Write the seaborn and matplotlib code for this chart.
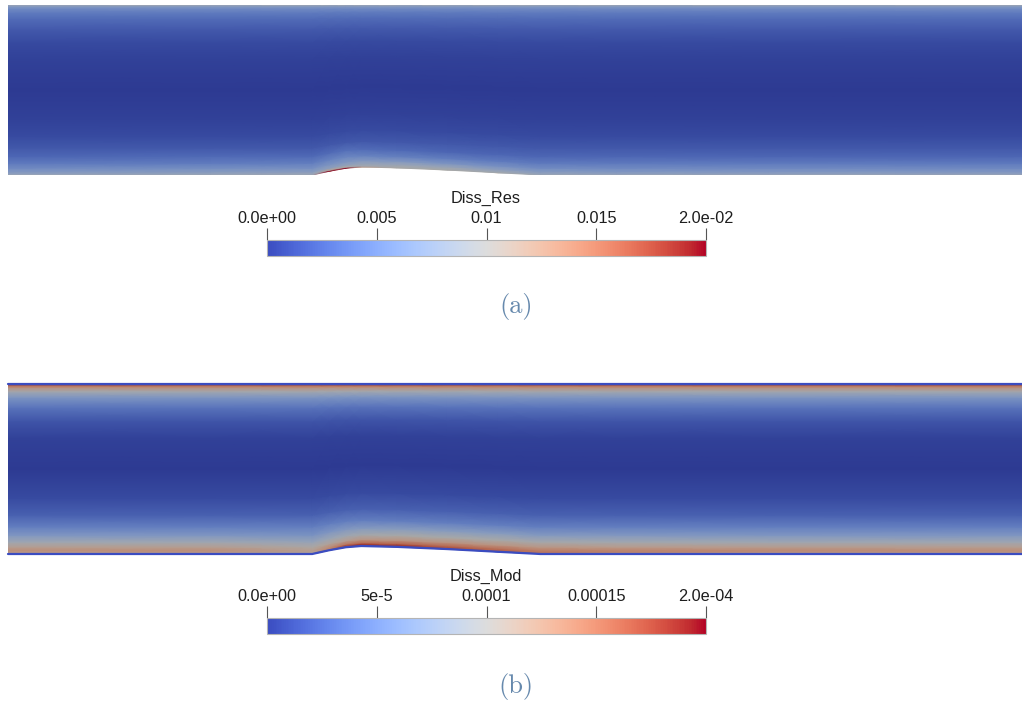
import numpy as np
import matplotlib
matplotlib.use("Agg")
import matplotlib.pyplot as plt
from matplotlib.colors import Normalize, ListedColormap
from matplotlib.cm import ScalarMappable
import seaborn as sns

sns.set_theme(style="white")
plt.rcParams['font.family'] = ['Liberation Sans', 'DejaVu Sans']

# ---------------- data ----------------
# streamwise stations (channel heights) and bottom-wall bump height
stations = [0.0, 1.2, 1.80, 1.90, 2.00, 2.09, 2.30, 2.60, 2.90, 3.15, 3.6, 4.5, 6.0]
bump_height = [0.0, 0.0, 0.0, 0.022, 0.040, 0.047, 0.042, 0.029, 0.013, 0.0, 0.0, 0.0, 0.0]

# wall-normal levels (0 = bottom wall, 1 = top wall)
eta = [0.0, 0.008, 0.02, 0.04, 0.07, 0.11, 0.16, 0.23, 0.33, 0.5,
       0.68, 0.78, 0.86, 0.92, 0.955, 0.98, 0.992, 1.0]

# Diss_Res: reference profile (fraction of colour range) and near-bottom-wall rows
res_max = 0.02
res_profile = [0.45, 0.38, 0.33, 0.27, 0.20, 0.14, 0.09, 0.05, 0.02, 0.0,
               0.02, 0.05, 0.10, 0.16, 0.21, 0.28, 0.34, 0.46]
res_wall_rows = [
    [0.45, 0.45, 0.45, 1.00, 1.00, 0.60, 0.50, 0.50, 0.48, 0.45, 0.45, 0.45, 0.45],
    [0.38, 0.40, 0.42, 0.55, 0.50, 0.46, 0.48, 0.47, 0.44, 0.40, 0.38, 0.38, 0.38],
    [0.33, 0.35, 0.36, 0.38, 0.40, 0.42, 0.43, 0.42, 0.38, 0.35, 0.33, 0.33, 0.33],
    [0.27, 0.29, 0.30, 0.32, 0.33, 0.34, 0.34, 0.32, 0.30, 0.28, 0.27, 0.27, 0.27],
    [0.20, 0.21, 0.22, 0.24, 0.25, 0.24, 0.23, 0.22, 0.21, 0.20, 0.20, 0.20, 0.20],
    [0.14, 0.15, 0.15, 0.16, 0.17, 0.16, 0.15, 0.14, 0.14, 0.14, 0.14, 0.14, 0.14],
]

# Diss_Mod
mod_max = 2.0e-4
mod_profile = [0.0, 0.60, 0.66, 0.58, 0.46, 0.33, 0.22, 0.12, 0.05, 0.0,
               0.02, 0.08, 0.18, 0.32, 0.47, 0.65, 0.80, 0.0]
mod_wall_rows = [
    [0.00, 0.00, 0.00, 0.00, 0.00, 0.00, 0.00, 0.00, 0.00, 0.00, 0.00, 0.00, 0.00],
    [0.60, 0.60, 0.55, 0.70, 0.88, 0.95, 0.92, 0.85, 0.80, 0.74, 0.68, 0.62, 0.60],
    [0.66, 0.66, 0.58, 0.66, 0.74, 0.78, 0.80, 0.78, 0.76, 0.72, 0.70, 0.68, 0.66],
    [0.58, 0.58, 0.52, 0.55, 0.58, 0.62, 0.64, 0.64, 0.63, 0.62, 0.60, 0.59, 0.58],
    [0.46, 0.46, 0.42, 0.44, 0.46, 0.48, 0.50, 0.50, 0.50, 0.49, 0.47, 0.46, 0.46],
    [0.33, 0.33, 0.31, 0.33, 0.34, 0.35, 0.36, 0.36, 0.36, 0.35, 0.34, 0.33, 0.33],
]

res_ticks = [0.0, 0.005, 0.01, 0.015, 0.02]
res_labels = ['0.0e+00', '0.005', '0.01', '0.015', '2.0e-02']
mod_ticks = [0.0, 5e-5, 1e-4, 1.5e-4, 2e-4]
mod_labels = ['0.0e+00', '5e-5', '0.0001', '0.00015', '2.0e-04']

# ---------------- drawing ----------------
W, H = 1022, 704
fig = plt.figure(figsize=(W / 100, H / 100), dpi=100)
fig.patch.set_facecolor('white')

def ax_px(x0, y0, x1, y1):
    return fig.add_axes([x0 / W, 1 - y1 / H, (x1 - x0) / W, (y1 - y0) / H])

cmap = sns.color_palette("coolwarm", as_cmap=True)
shade = 0.76
lit = ListedColormap(np.clip(cmap(np.linspace(0, 1, 256))[:, :3] * shade, 0, 1))

st = np.array(stations)
bh = np.array(bump_height)
et = np.array(eta)
X = np.tile(st, (len(et), 1))
Y = bh[None, :] + et[:, None] * (1 - bh[None, :])

def field(profile, wall_rows, vmax):
    F = np.tile(np.array(profile)[:, None], (1, len(st)))
    wr = np.array(wall_rows)
    F[:wr.shape[0], :] = wr
    return F * vmax

def draw_field(y0, y1, profile, wall_rows, vmax, wall_line):
    ax = ax_px(8, y0, 1022, y1)
    ax.pcolormesh(X, Y, field(profile, wall_rows, vmax), shading='gouraud',
                  cmap=lit, vmin=0, vmax=vmax)
    if wall_line:
        ax.plot(st, bh, color=cmap(0.0), lw=1.6, clip_on=False)
        ax.axhline(1.0, color=cmap(0.0), lw=1.6, clip_on=False)
    ax.set_xlim(0, 6.0)
    ax.set_ylim(0, 1)
    ax.set_axis_off()
    return ax

def draw_cbar(ybar, title, title_base, ticks, labels, vmax):
    cax = ax_px(267, ybar, 706, ybar + 16)
    sm = ScalarMappable(norm=Normalize(0, vmax), cmap=cmap)
    cb = fig.colorbar(sm, cax=cax, orientation='horizontal', ticks=ticks)
    cax.xaxis.set_ticks_position('top')
    cax.set_xticklabels(labels)
    cax.tick_params(axis='x', length=8.6, width=0.8, color='#555555', pad=1.2,
                    labelsize=11.7, labelcolor='#1e1e1e')
    cb.outline.set_edgecolor('#b4b4b4')
    cb.outline.set_linewidth(0.8)
    fig.text(486 / W, 1 - title_base / H, title, ha='center', va='baseline',
             fontsize=11.7, color='#1e1e1e')

draw_field(5, 175, res_profile, res_wall_rows, res_max, False)
draw_cbar(240, 'Diss_Res', 203, res_ticks, res_labels, res_max)
fig.text(516 / W, 1 - 307 / H, '(a)', ha='center', va='center',
         fontfamily='cmr10', fontsize=19, color='#6689ad')

draw_field(384, 554, mod_profile, mod_wall_rows, mod_max, True)
draw_cbar(618, 'Diss_Mod', 581, mod_ticks, mod_labels, mod_max)
fig.text(516 / W, 1 - 686 / H, '(b)', ha='center', va='center',
         fontfamily='cmr10', fontsize=19, color='#6689ad')

fig.savefig('out.png', dpi=100, facecolor='white')
